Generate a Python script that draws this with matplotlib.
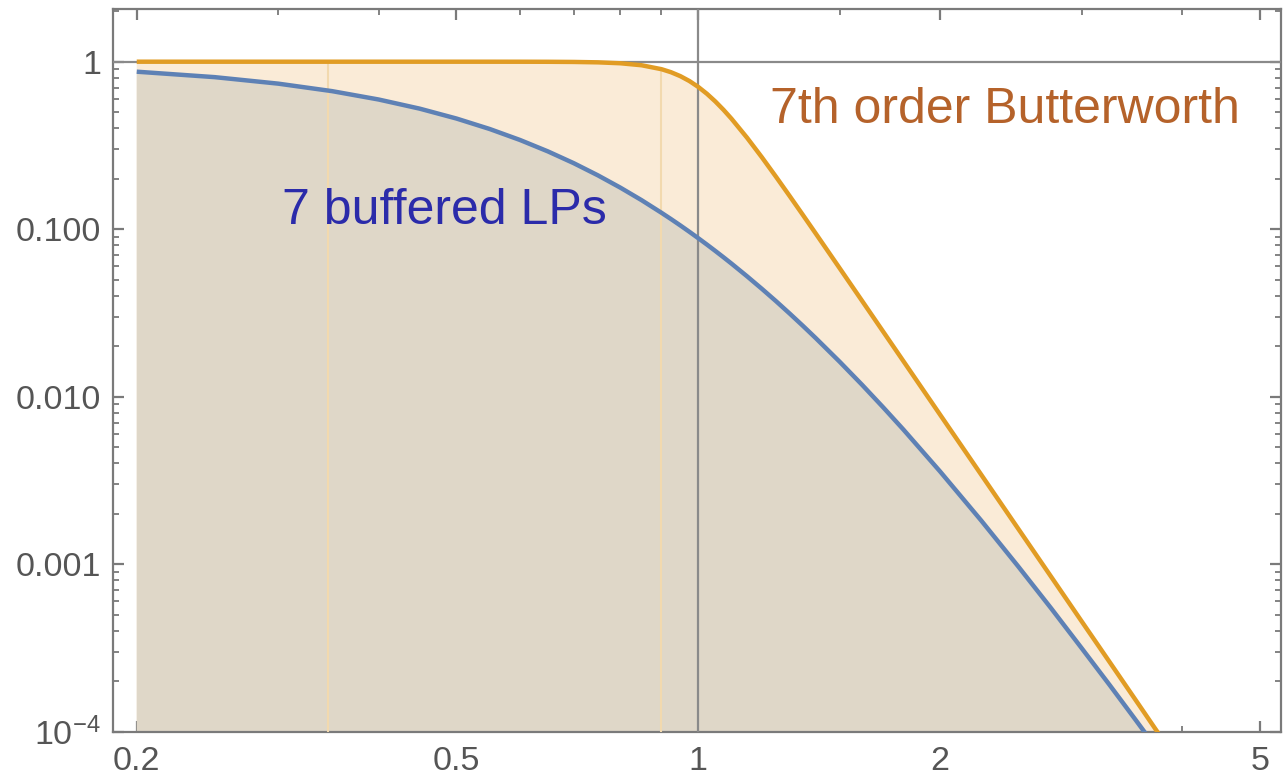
import matplotlib
matplotlib.use("Agg")
import matplotlib.pyplot as plt
from matplotlib.ticker import FixedLocator, NullFormatter

plt.rcParams['font.family'] = ['Liberation Sans', 'DejaVu Sans']
plt.rcParams['mathtext.fontset'] = 'custom'
plt.rcParams['mathtext.rm'] = 'Liberation Sans'
plt.rcParams['mathtext.it'] = 'Liberation Sans'

# Normalised frequency samples
freq = [0.2, 0.25, 0.3, 0.35, 0.4, 0.45, 0.5, 0.55, 0.6, 0.65, 0.7, 0.75,
        0.8, 0.85, 0.9, 0.925, 0.95, 0.975, 1.0, 1.025, 1.05, 1.075, 1.1,
        1.15, 1.2, 1.25, 1.3, 1.35, 1.4, 1.5, 1.6, 1.7, 1.8, 2.0, 2.25, 2.5,
        2.75, 3.0, 3.25, 3.5, 3.6, 3.7, 3.8]

# 7th order Butterworth magnitude
butterworth = [1.0, 1.0, 1.0, 1.0, 1.0, 1.0, 1.0, 0.99988, 0.99961, 0.9988,
               0.99663, 0.99121, 0.97871, 0.95226, 0.90212, 0.86525, 0.81987,
               0.76660, 0.70711, 0.64375, 0.57929, 0.51623, 0.45655, 0.35189,
               0.26881, 0.20525, 0.15738, 0.12147, 0.09444, 0.05843, 0.03723,
               0.02436, 0.016332, 0.007812, 0.003427, 0.001638, 0.000841,
               0.000457, 0.0002614, 0.0001556, 0.0001277, 0.0001053, 0.0000875]

# Seven buffered first-order low passes in cascade
buffered = [0.8717, 0.8088, 0.7396, 0.6673, 0.5948, 0.5245, 0.4579, 0.3965,
            0.3409, 0.2913, 0.2477, 0.2097, 0.1770, 0.1491, 0.1253, 0.11489,
            0.1053, 0.09647, 0.08839, 0.08099, 0.07420, 0.06800, 0.06232,
            0.05237, 0.04406, 0.03714, 0.03132, 0.02647, 0.02241, 0.01616,
            0.01175, 0.008614, 0.006374, 0.003578, 0.001824, 0.000975,
            0.000545, 0.000316, 0.0001906, 0.0001183, 0.0000985, 0.0000824,
            0.0000692]

x_major = [0.2, 0.5, 1, 2, 5]
x_major_labels = ["0.2", "0.5", "1", "2", "5"]
x_minor = [0.3, 0.4, 0.6, 0.7, 0.8, 0.9, 1.5, 3, 4]
y_major = [1e-4, 1e-3, 1e-2, 1e-1, 1]
y_major_labels = [r"$10^{-4}$", "0.001", "0.010", "0.100", "1"]
y_minor = [m * 10.0 ** e for e in range(-4, 1) for m in range(2, 10)]

seam_x = [0.346, 0.9]

BLUE = "#5E81B5"
ORANGE = "#E19C24"
FRAME = "#7a7a7a"
LABEL = "#555555"

fig = plt.figure(figsize=(12.83, 7.78), dpi=100)
ax = fig.add_axes([0.0883, 0.0595, 0.9104, 0.9285])
ax.set_xscale("log")
ax.set_yscale("log")
ax.set_xlim(0.1870, 5.319)
ax.set_ylim(1e-4, 2.054)

floor = 1e-6
ax.fill_between(freq, butterworth, floor, color="#FAEBD7", lw=0, zorder=1)
ax.fill_between(freq, buffered, floor, color="#DFD7C8", lw=0, zorder=2)

# faint seams of the filled region
for sx in seam_x:
    top = butterworth[min(range(len(freq)), key=lambda i: abs(freq[i] - sx))]
    ax.plot([sx, sx], [floor, top], color="#F2D9AE", lw=1.5, zorder=3)

ax.plot(freq, buffered, color=BLUE, lw=3.2, zorder=5, solid_capstyle="butt")
ax.plot(freq, butterworth, color=ORANGE, lw=3.2, zorder=6, solid_capstyle="butt")

ax.axvline(1, color="#8a8a8a", lw=1.6, zorder=4)
ax.axhline(1, color="#8a8a8a", lw=1.6, zorder=4)

for s in ax.spines.values():
    s.set_color(FRAME)
    s.set_linewidth(1.6)

ax.xaxis.set_major_locator(FixedLocator(x_major))
ax.set_xticklabels(x_major_labels)
ax.xaxis.set_minor_locator(FixedLocator(x_minor))
ax.xaxis.set_minor_formatter(NullFormatter())
ax.yaxis.set_major_locator(FixedLocator(y_major))
ax.set_yticklabels(y_major_labels)
ax.yaxis.set_minor_locator(FixedLocator(y_minor))
ax.yaxis.set_minor_formatter(NullFormatter())

ax.tick_params(which="both", direction="in", top=True, right=True,
               color=FRAME, labelcolor=LABEL, labelsize=24.5)
ax.tick_params(which="major", length=8, width=1.6)
ax.tick_params(which="minor", length=4.5, width=1.3)
ax.tick_params(axis="x", which="major", pad=10)
ax.tick_params(axis="y", which="major", pad=9)

ax.text(1.23, 0.431, "7th order Butterworth", color="#B5622A", fontsize=36,
        ha="left", va="baseline", zorder=7)
ax.text(0.3029, 0.107, "7 buffered LPs", color="#2B2BAA", fontsize=36,
        ha="left", va="baseline", zorder=7)

fig.savefig("out.png", dpi=100)
